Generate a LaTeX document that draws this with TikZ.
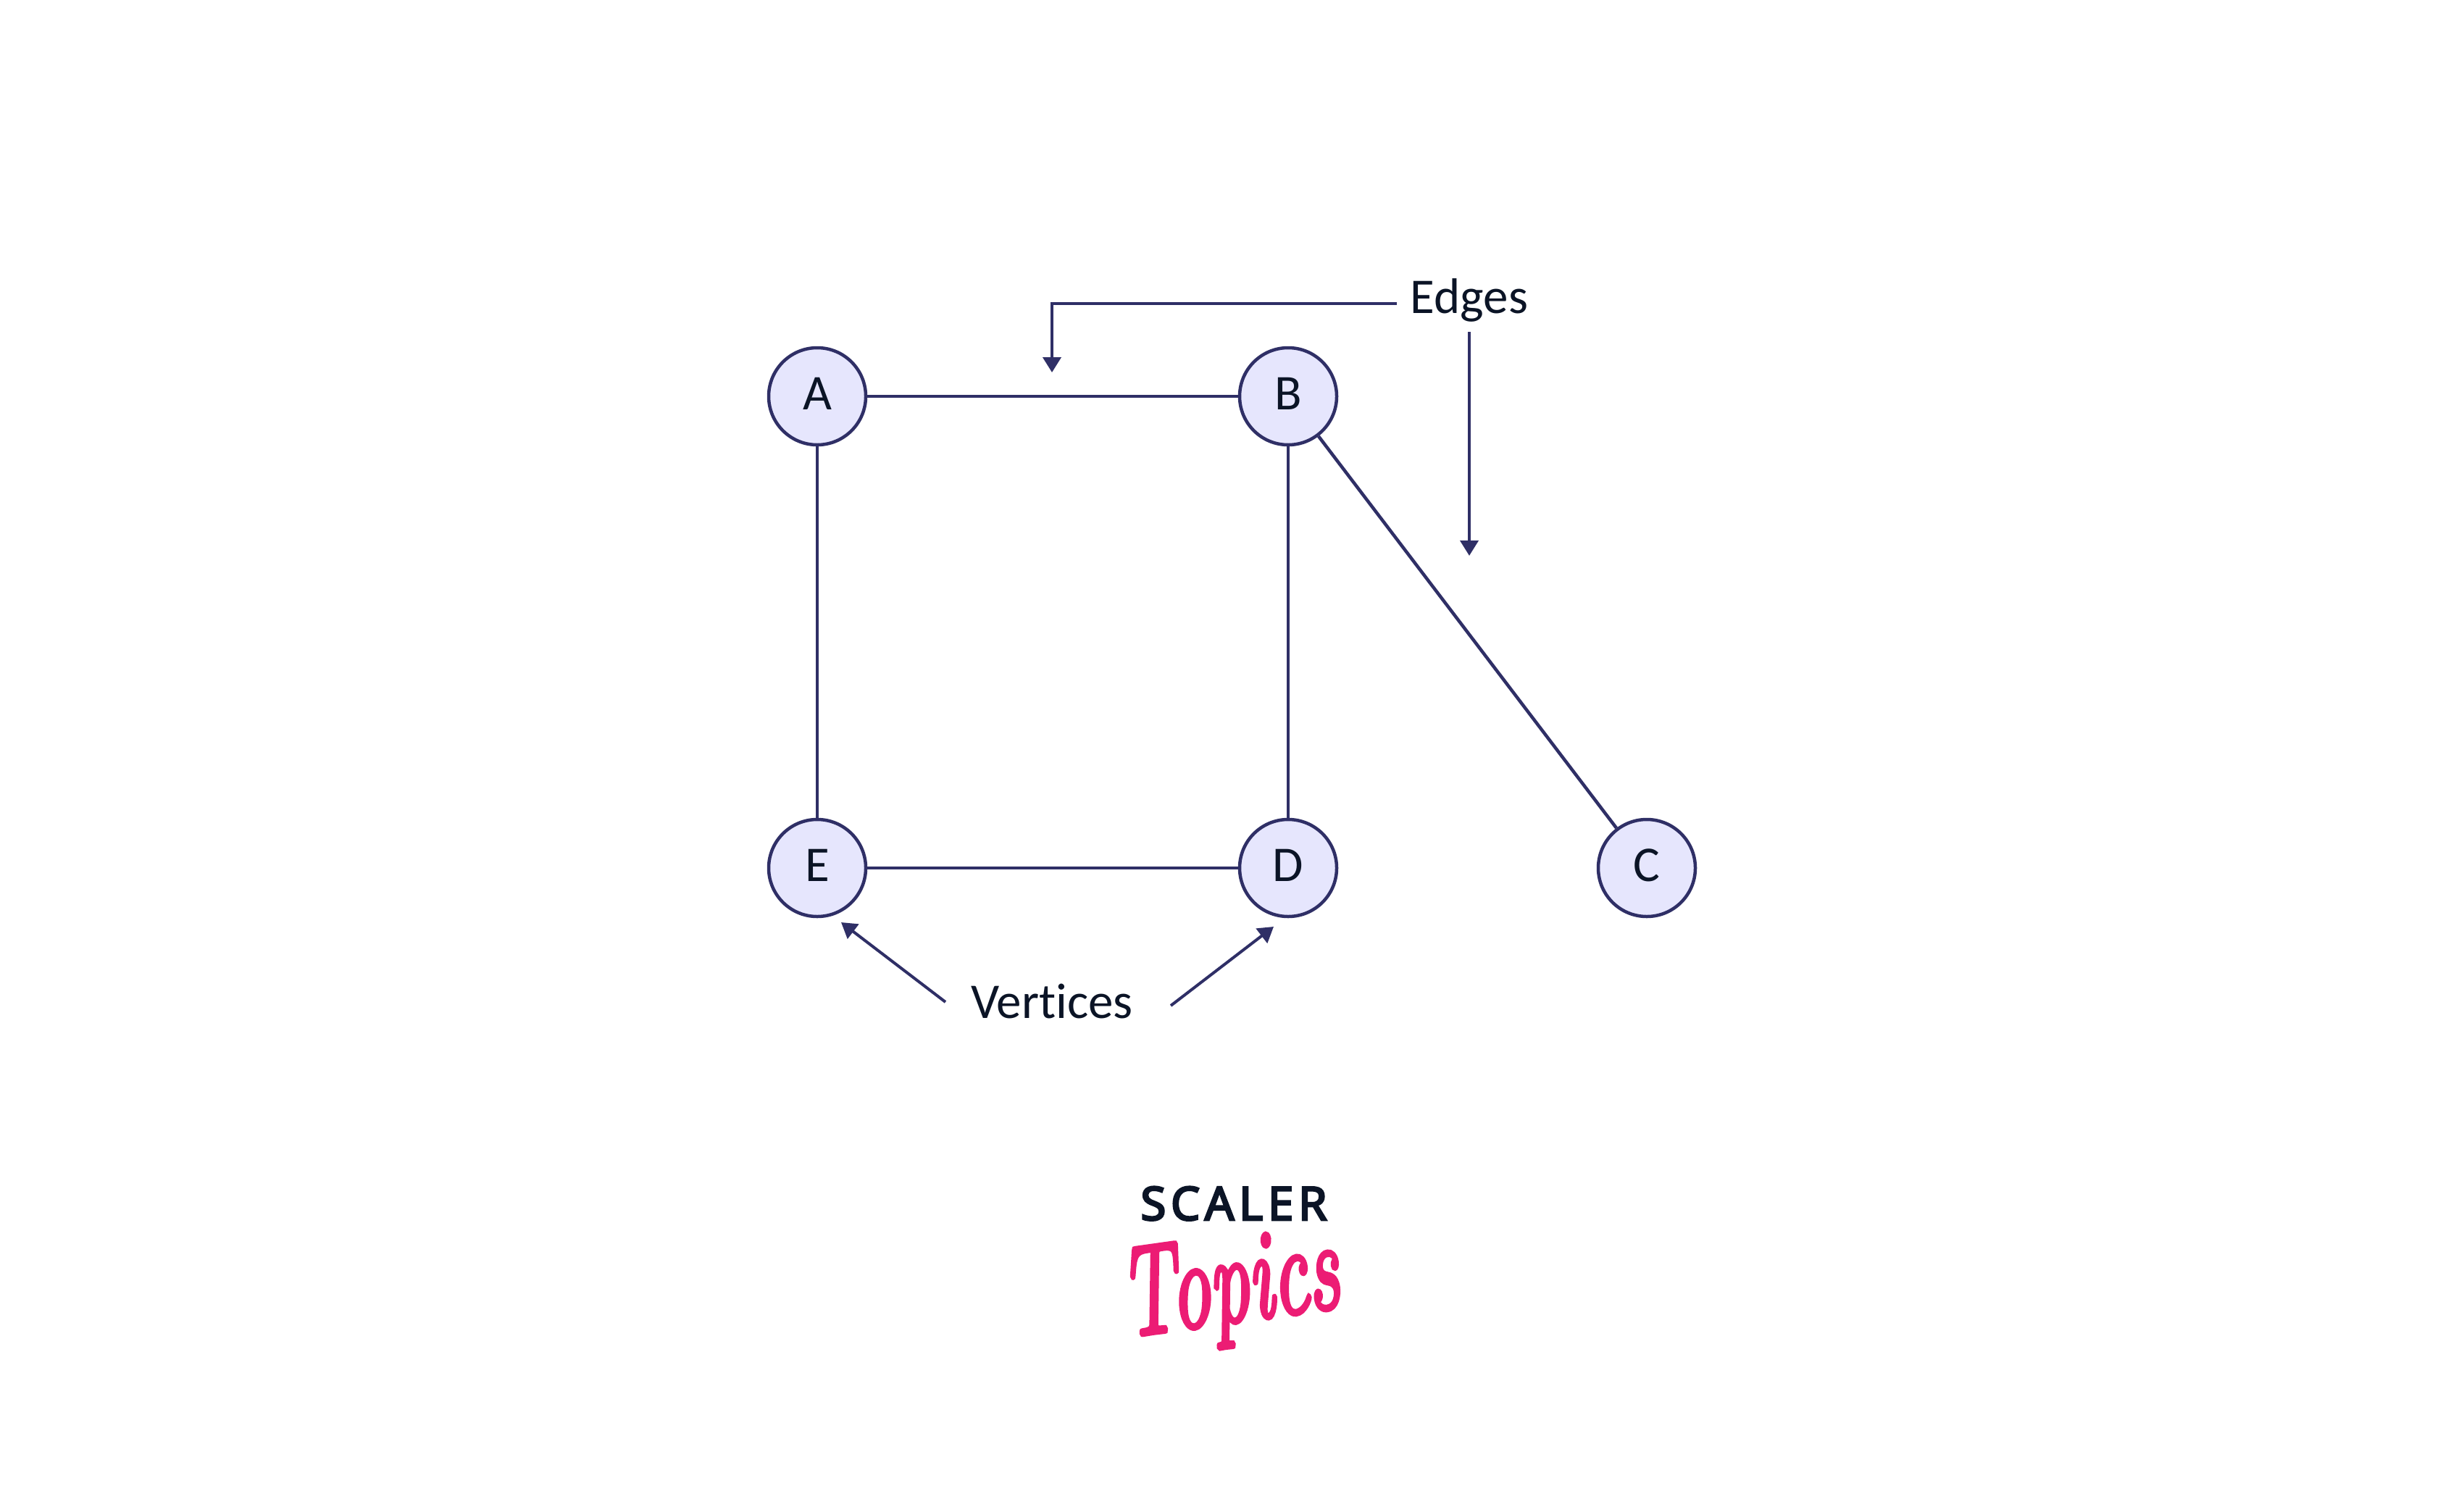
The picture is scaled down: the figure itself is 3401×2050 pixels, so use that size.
\documentclass[tikz,border=0pt]{standalone}
\usepackage{fontspec}
\setmainfont[Ligatures=NoCommon]{Carlito}
\newfontfamily\scalerfont[LetterSpace=10,FakeBold=4]{Noto Sans}
\newfontfamily\logofont[ItalicFeatures={FakeBold=4}]{Latin Modern Roman}
\usetikzlibrary{arrows.meta}
\definecolor{linecol}{HTML}{2F2F66}
\definecolor{vfill}{HTML}{E6E6FD}
\definecolor{inkcol}{HTML}{0B1426}
\definecolor{pinkcol}{HTML}{EC1C74}
\tikzset{
  vertexnode/.style={circle,draw=linecol,fill=vfill,line width=4.5pt,minimum size=134pt,inner sep=0pt,
    text=inkcol,font=\fontsize{69}{72}\selectfont,text height=43pt,text depth=7pt},
  labelnode/.style={anchor=base,text=inkcol,inner sep=0pt,font=\fontsize{69}{72}\selectfont},
  edgeline/.style={draw=linecol,line width=4.5pt},
  pointer/.style={draw=linecol,line width=4pt,-{Stealth[length=21pt,width=25pt,inset=0pt]}}
}
\begin{document}
\begin{tikzpicture}[x=1pt,y=-1pt]
\useasboundingbox (0,0) rectangle (3401,2050);
\fill[white] (0,0) rectangle (3401,2050);
\node[vertexnode] (A) at (1128,547) {A};
\node[vertexnode] (B) at (1778,547) {B};
\node[vertexnode] (C) at (2273,1198) {C};
\node[vertexnode] (D) at (1778,1198) {D};
\node[vertexnode] (E) at (1128,1198) {E};
\draw[edgeline] (A) -- (B);
\draw[edgeline] (A) -- (E);
\draw[edgeline] (B) -- (D);
\draw[edgeline] (B) -- (C);
\draw[edgeline] (E) -- (D);
\node[labelnode] (edges) at (2028,432) {Edges};
\node[labelnode] (vertices) at (1452,1405) {Vertices};
\coordinate (e1s) at (1928,419);
\coordinate (e1c) at (1452,419);
\coordinate (e1t) at (1452,514);
\coordinate (e2s) at (2028,458);
\coordinate (e2t) at (2028,767);
\coordinate (v1s) at (1305,1383);
\coordinate (v1t) at (1161,1273);
\coordinate (v2s) at (1616,1388);
\coordinate (v2t) at (1758,1279);
\draw[pointer] (e1s) -- (e1c) -- (e1t);
\draw[pointer] (e2s) -- (e2t);
\draw[pointer] (v1s) -- (v1t);
\draw[pointer] (v2s) -- (v2t);
\node[anchor=base,inner sep=0pt,text=inkcol,font=\fontsize{64}{70}\scalerfont] (scaler) at (1703,1684) {SCALER};
\node[anchor=center,inner sep=0pt,text=pinkcol,rotate=8,font=\fontsize{175}{180}\logofont\itshape] (topics) at (1698,1782) {\scalebox{0.62}[1]{Topics}};
\end{tikzpicture}
\end{document}
